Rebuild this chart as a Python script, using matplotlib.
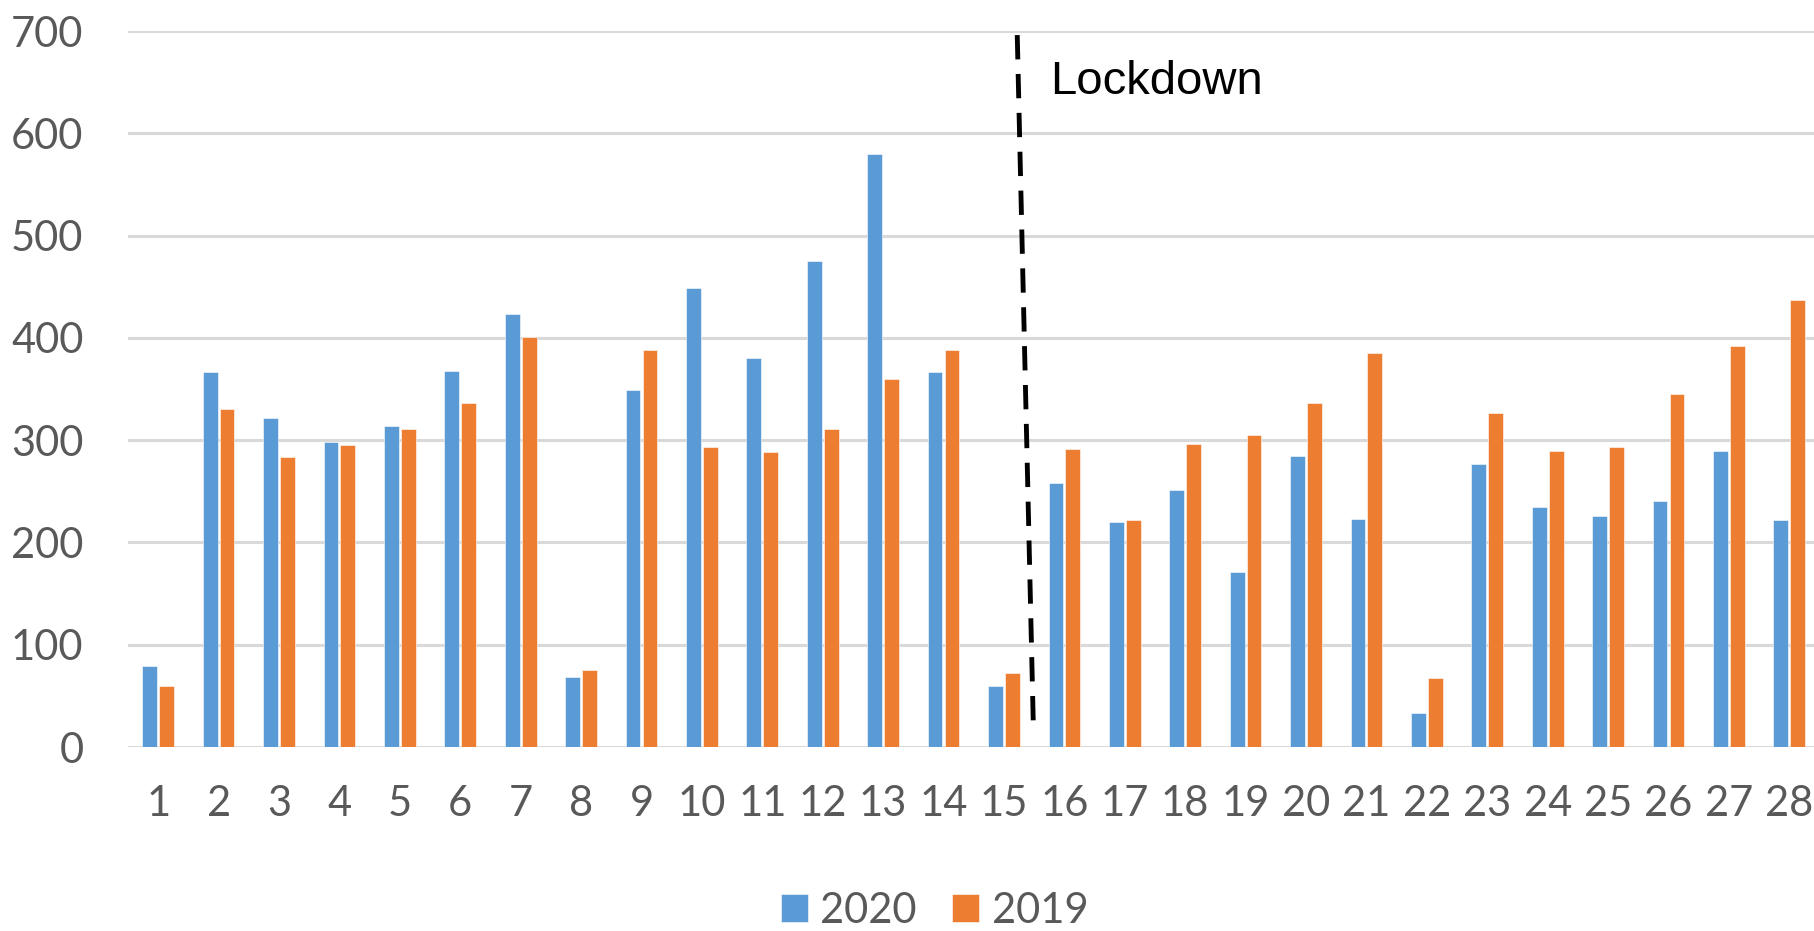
import numpy as np
import matplotlib
matplotlib.use("Agg")
import matplotlib.pyplot as plt

# Valores diarios por año
dias = list(range(1, 29))
valores_2020 = [79, 367, 322, 298, 314, 368, 423, 68, 349, 449, 380, 475, 580, 367,
                60, 258, 220, 251, 171, 285, 223, 33, 277, 235, 226, 241, 289, 222]
valores_2019 = [60, 330, 284, 295, 311, 336, 401, 75, 388, 293, 288, 311, 360, 388,
                72, 291, 222, 296, 305, 336, 385, 67, 327, 289, 293, 345, 392, 437]

# Línea del confinamiento (inicio y fin) y texto
lockdown_x = [15.22, 15.49]
lockdown_y = [696, 12]
lockdown_texto = "Lockdown"

color_2020 = "#5B9BD5"
color_2019 = "#ED7D31"
gris = "#595959"

plt.rcParams["font.family"] = ["Lato", "DejaVu Sans"]

fig = plt.figure(figsize=(18.15, 9.31), dpi=100)
ax = fig.add_axes([0.0705, 0.1976, 0.932, 0.7691])

x = np.array(dias)
ancho = 0.245
ax.bar(x - 0.14, valores_2020, width=ancho, color=color_2020, label="2020",
       edgecolor="white", linewidth=0.4, zorder=3)
ax.bar(x + 0.14, valores_2019, width=ancho, color=color_2019, label="2019",
       edgecolor="white", linewidth=0.4, zorder=3)

# Línea discontinua del confinamiento
ax.plot(lockdown_x, lockdown_y, color="black", lw=3.5, dashes=(5, 3), zorder=4,
        dash_capstyle="butt")
ax.text(15.76, 650, lockdown_texto, fontsize=34, color="black",
        family=["Liberation Sans", "DejaVu Sans"], va="center", ha="left", zorder=5)

ax.set_xlim(0.5, 28.5)
ax.set_ylim(0, 700)
ax.set_yticks(range(0, 701, 100))
ax.set_xticks(dias)
ax.set_xticklabels([str(d) for d in dias])

ax.grid(axis="y", color="#d9d9d9", linewidth=2.2, zorder=0)
ax.set_axisbelow(True)
for s in ax.spines.values():
    s.set_visible(False)
ax.tick_params(axis="both", length=0, labelsize=30, labelcolor=gris)
ax.tick_params(axis="y", pad=32)
ax.tick_params(axis="x", pad=27)

fig.legend(loc="center", bbox_to_anchor=(0.515, 0.0215), ncol=2, frameon=False,
           fontsize=30, labelcolor=gris, handlelength=0.65, handleheight=0.65,
           handletextpad=0.3, columnspacing=0.85, borderpad=0)

fig.savefig("out.png", dpi=100)
